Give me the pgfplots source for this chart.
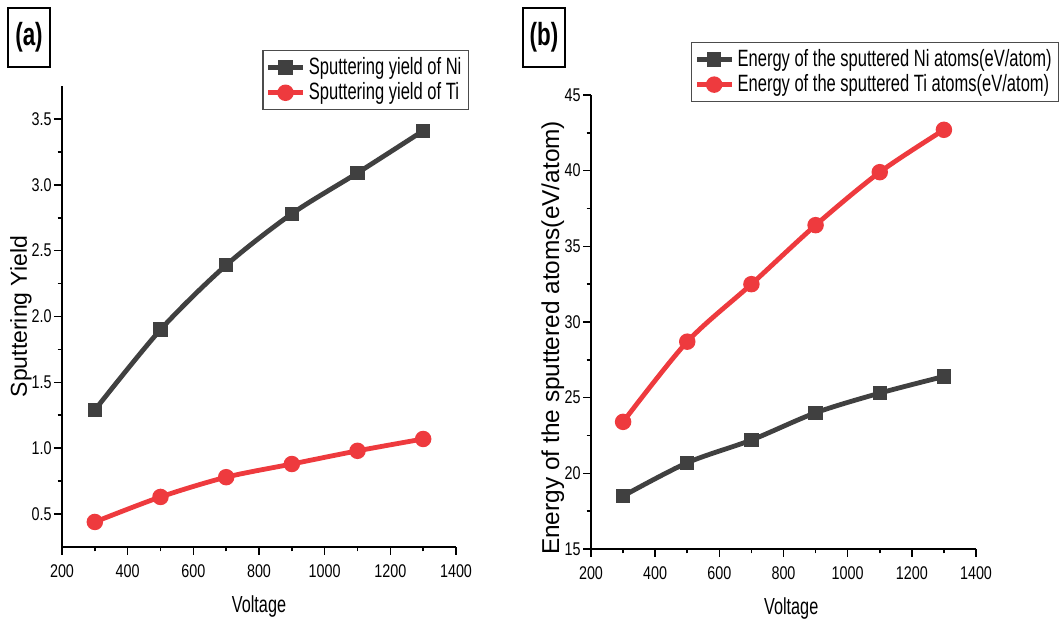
\documentclass[border=0pt]{standalone}
\usepackage{fontspec}
\setmainfont{Liberation Sans}[FakeStretch=0.70]
\newfontfamily\widefont{Liberation Sans}
\newfontfamily\tickfont{Liberation Sans}[FakeStretch=0.78]
\usepackage{pgfplots}
\pgfplotsset{compat=1.18}
\definecolor{nigray}{RGB}{64,64,64}
\definecolor{tired}{RGB}{238,58,62}

\pgfplotsset{
  panel/.style={
    scale only axis,
    axis x line*=bottom, axis y line*=left,
    axis line style={line width=0.8pt},
    tick align=outside,
    major tick length=4pt, minor tick length=2.2pt,
    minor tick num=1,
    every tick/.style={line width=0.8pt, black},
    xmin=200, xmax=1400, xtick={200,400,...,1400},
    /pgf/number format/1000 sep={},
    /pgf/number format/assume math mode=true,
    tick label style={font=\tickfont\fontsize{9.2}{10}\selectfont},
    yticklabel style={inner sep=1pt},
    xticklabel style={yshift=-1.5pt},
    xlabel={Voltage},
    legend cell align=left,
    legend style={font=\fontsize{11.8}{13}\selectfont, draw=black!70, line width=0.6pt,
      inner sep=1.5pt, row sep=-1.5pt},
  },
  ni/.style={nigray, line width=2.4pt, smooth, tension=0.5, mark=square*, mark size=2.4pt,
    mark options={solid}},
  ti/.style={tired, line width=2.4pt, smooth, tension=0.5, mark=*, mark size=2.9pt,
    mark options={solid}},
}

\begin{document}
\begin{tikzpicture}
\useasboundingbox (0,0) rectangle (529.5pt,312pt);

% panel (a)
\begin{axis}[panel,
  at={(31pt,38.5pt)}, anchor=origin,
  width=197pt, height=230.5pt,
  ymin=0.25, ymax=3.75, ytick={0.5,1.0,...,3.5},
  yticklabel style={/pgf/number format/fixed, /pgf/number format/fixed zerofill, /pgf/number format/precision=1},
  ylabel={Sputtering Yield},
  ylabel style={font=\widefont\fontsize{11.5}{13}\selectfont, at={(axis description cs:-0.104,0.5)}, anchor=center},
  xlabel style={font=\fontsize{11.6}{13}\selectfont, at={(axis description cs:0.5,-0.13)}, anchor=center},
  legend style={at={(1.033,1.078)}, anchor=north east},
]
\addplot[ni] coordinates {(300,1.29) (500,1.90) (700,2.39) (900,2.78) (1100,3.09) (1300,3.41)};
\addplot[ti] coordinates {(300,0.44) (500,0.63) (700,0.78) (900,0.88) (1100,0.98) (1300,1.07)};
\legend{Sputtering yield of Ni, Sputtering yield of Ti}
\end{axis}

% panel (b)
\begin{axis}[panel,
  at={(295.5pt,37.5pt)}, anchor=origin,
  width=192.5pt, height=227pt,
  ymin=15, ymax=45, ytick={15,20,...,45},
  ylabel={Energy of the sputtered atoms(eV/atom)},
  ylabel style={font=\widefont\fontsize{12.2}{14}\selectfont, at={(axis description cs:-0.099,0.465)}, anchor=center},
  xlabel style={font=\fontsize{11.6}{13}\selectfont, at={(axis description cs:0.52,-0.132)}, anchor=center},
  legend style={at={(0.26,1.117)}, anchor=north west},
]
\addplot[ni] coordinates {(300,18.5) (500,20.7) (700,22.2) (900,24.0) (1100,25.3) (1300,26.4)};
\addplot[ti] coordinates {(300,23.4) (500,28.7) (700,32.5) (900,36.4) (1100,39.9) (1300,42.7)};
\legend{Energy of the sputtered Ni atoms(eV/atom), Energy of the sputtered Ti atoms(eV/atom)}
\end{axis}

\node[draw, line width=0.6pt, minimum width=21pt, minimum height=29.5pt, inner sep=0pt,
  font=\bfseries\fontsize{16}{18}\selectfont] at (14.5pt,293.25pt) {(a)};
\node[draw, line width=0.6pt, minimum width=21pt, minimum height=29.5pt, inner sep=0pt,
  font=\bfseries\fontsize{16}{18}\selectfont] at (272pt,293.25pt) {(b)};
\end{tikzpicture}
\end{document}
